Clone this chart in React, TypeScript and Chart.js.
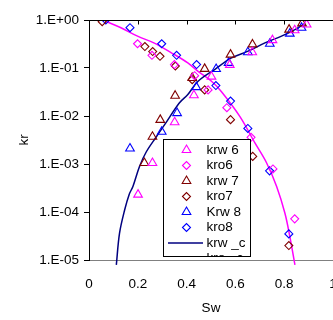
import React, { useEffect, useRef } from 'react';
import { Chart, registerables } from 'chart.js';

Chart.register(...registerables);

const FONT = "'Liberation Sans', Arial, Helvetica, sans-serif";
const FS = 13.5;

const MAGENTA = '#FF00FF';
const DARKRED = '#800000';
const BLUE = '#0000FF';
const NAVY = '#000080';

// x-axis tick labels and y-axis decade ticks
const xTickLabels = ['0', '0.2', '0.4', '0.6', '0.8', '1'];
const yTicks = [1, 0.1, 0.01, 0.001, 0.0001, 0.00001];
const yTickLabels = ['1.E+00', '1.E-01', '1.E-02', '1.E-03', '1.E-04', '1.E-05'];

// krw 6 (magenta triangles)
const krw6Sw = [0.201, 0.260, 0.351, 0.430, 0.502, 0.577, 0.669, 0.752, 0.843, 0.892];
const krw6Kr = [2.3e-4, 1.05e-3, 7.4e-3, 0.027, 0.066, 0.116, 0.213, 0.38, 0.61, 0.805];

// kro6 (magenta diamonds)
const kro6Sw = [0.199, 0.258, 0.350, 0.433, 0.488, 0.565, 0.664, 0.754, 0.843];
const kro6Kr = [0.32, 0.184, 0.118, 0.069, 0.035, 0.0149, 0.0036, 7.9e-4, 7.2e-5];

// krw 7 (dark red triangles)
const krw7Sw = [0.227, 0.260, 0.292, 0.353, 0.423, 0.474, 0.580, 0.670, 0.820, 0.873];
const krw7Kr = [1.05e-3, 3.7e-3, 8.3e-3, 0.0265, 0.062, 0.096, 0.19, 0.31, 0.63, 0.85];

// kro7 (dark red diamonds)
const kro7Sw = [0.054, 0.229, 0.261, 0.291, 0.354, 0.423, 0.474, 0.580, 0.671, 0.819];
const kro7Kr = [0.92, 0.28, 0.22, 0.175, 0.11, 0.057, 0.035, 0.0084, 0.00144, 2.0e-5];

// Krw 8 (blue triangles)
const krw8Sw = [0.168, 0.298, 0.361, 0.440, 0.521, 0.572, 0.651, 0.741, 0.823, 0.871];
const krw8Kr = [2.1e-3, 4.7e-3, 0.0115, 0.04, 0.095, 0.128, 0.213, 0.32, 0.52, 0.69];

// kro8 (blue diamonds)
const kro8Sw = [0.069, 0.168, 0.298, 0.359, 0.441, 0.520, 0.580, 0.651, 0.740, 0.819];
const kro8Kr = [1.0, 0.69, 0.32, 0.184, 0.118, 0.043, 0.0205, 0.0055, 7.2e-4, 3.5e-5];

// krw _c (navy curve)
const krwcSw = [0.112, 0.125, 0.146, 0.165, 0.180, 0.207, 0.235, 0.276, 0.310, 0.370, 0.405, 0.447, 0.515, 0.584, 0.652, 0.721, 0.789, 0.844, 0.885];
const krwcKr = [7.9e-6, 3.6e-5, 1.1e-4, 2.35e-4, 3.4e-4, 8.9e-4, 1.8e-3, 3.7e-3, 6.6e-3, 0.0187, 0.028, 0.053, 0.093, 0.162, 0.224, 0.334, 0.46, 0.63, 0.85];

// kro _c (magenta curve)
const krocSw = [0.069, 0.131, 0.199, 0.268, 0.336, 0.405, 0.447, 0.502, 0.543, 0.618, 0.680, 0.728, 0.769, 0.803, 0.823, 0.844];
const krocKr = [0.94, 0.69, 0.46, 0.33, 0.21, 0.128, 0.085, 0.053, 0.032, 0.0098, 2.75e-3, 1.05e-3, 3.4e-4, 9.4e-5, 3.1e-5, 7.9e-6];

const pts = (xs: number[], ys: number[]) => xs.map((x, i) => ({ x, y: ys[i] }));

function markerDs(label: string, xs: number[], ys: number[], color: string, style: string) {
  return {
    label,
    data: pts(xs, ys),
    showLine: false,
    pointStyle: style,
    pointRadius: style === 'triangle' ? 5 : 4,
    pointBorderColor: color,
    pointBackgroundColor: 'rgba(0,0,0,0)',
    pointBorderWidth: 1.1,
    borderColor: color,
    backgroundColor: 'rgba(0,0,0,0)',
  };
}

function lineDs(label: string, xs: number[], ys: number[], color: string) {
  return {
    label,
    data: pts(xs, ys),
    showLine: true,
    pointRadius: 0,
    borderColor: color,
    backgroundColor: color,
    borderWidth: 1.5,
    tension: 0.35,
    clip: { left: 0, top: 0, right: 0, bottom: 10 },
  };
}

function drawMarker(ctx: CanvasRenderingContext2D, style: string, x: number, y: number, r: number) {
  ctx.beginPath();
  if (style === 'triangle') {
    ctx.moveTo(x, y - r);
    ctx.lineTo(x + r * Math.cos(Math.PI / 6), y + r * 0.5);
    ctx.lineTo(x - r * Math.cos(Math.PI / 6), y + r * 0.5);
    ctx.closePath();
  } else {
    ctx.moveTo(x - r, y);
    ctx.lineTo(x, y - r);
    ctx.lineTo(x + r, y);
    ctx.lineTo(x, y + r);
    ctx.closePath();
  }
  ctx.stroke();
}

// stretch the plot to the right canvas edge (x = 1 sits on the cropped edge)
const stretchRight = {
  id: 'stretchRight',
  afterLayout(chart: any) {
    const a = chart.chartArea;
    const target = chart.width;
    a.right = target;
    a.width = a.right - a.left;
    const xs = chart.scales.x;
    xs.right = target;
    xs.width = target - xs.left;
    xs.configure();
  },
};

const frameAndLegend = {
  id: 'frameAndLegend',
  afterDatasetsDraw(chart: any) {
    const ctx: CanvasRenderingContext2D = chart.ctx;
    const area = chart.chartArea;
    const xs = chart.scales.x;
    ctx.save();
    ctx.strokeStyle = '#000';
    ctx.lineWidth = 1;
    const ty = Math.round(area.top) + 0.5;
    ctx.beginPath();
    ctx.moveTo(area.left, ty);
    ctx.lineTo(chart.width, ty);
    [0.2, 0.4, 0.6, 0.8, 1].forEach((v) => {
      const px = Math.round(xs.getPixelForValue(v)) + 0.5;
      ctx.moveTo(px, ty);
      ctx.lineTo(px, ty + 4);
    });
    ctx.stroke();

    // legend box
    const bx = 163.5, by = 139.5, bw = 87, bh = 117;
    ctx.fillStyle = '#fff';
    ctx.fillRect(bx, by, bw, bh);
    ctx.save();
    ctx.beginPath();
    ctx.rect(bx, by, bw, bh);
    ctx.clip();
    ctx.font = `${FS}px ${FONT}`;
    ctx.textBaseline = 'middle';
    ctx.textAlign = 'left';
    chart.data.datasets.forEach((ds: any, i: number) => {
      const cy = 150 + i * 15.5;
      if (ds.showLine) {
        ctx.strokeStyle = ds.borderColor;
        ctx.lineWidth = 1.5;
        ctx.beginPath();
        ctx.moveTo(168, cy);
        ctx.lineTo(203, cy);
        ctx.stroke();
      } else {
        ctx.strokeStyle = ds.pointBorderColor;
        ctx.lineWidth = 1.1;
        drawMarker(ctx, ds.pointStyle, 186.5, cy, ds.pointRadius);
      }
      ctx.fillStyle = '#000';
      ctx.fillText(ds.label, 206.5, cy);
    });
    ctx.restore();
    ctx.strokeStyle = '#000';
    ctx.lineWidth = 1;
    ctx.strokeRect(bx, by, bw, bh);
    ctx.restore();
  },
};

export default function App() {
  const ref = useRef<HTMLCanvasElement | null>(null);
  useEffect(() => {
    document.body.style.margin = '0';
    document.body.style.overflow = 'hidden';
    const canvas = ref.current;
    if (!canvas) return;
    const chart = new Chart(canvas, {
      type: 'scatter',
      data: {
        datasets: [
          markerDs('krw 6', krw6Sw, krw6Kr, MAGENTA, 'triangle'),
          markerDs('kro6', kro6Sw, kro6Kr, MAGENTA, 'rectRot'),
          markerDs('krw 7', krw7Sw, krw7Kr, DARKRED, 'triangle'),
          markerDs('kro7', kro7Sw, kro7Kr, DARKRED, 'rectRot'),
          markerDs('Krw 8', krw8Sw, krw8Kr, BLUE, 'triangle'),
          markerDs('kro8', kro8Sw, kro8Kr, BLUE, 'rectRot'),
          lineDs('krw _c', krwcSw, krwcKr, NAVY),
          lineDs('kro _c', krocSw, krocKr, MAGENTA),
        ] as any,
      },
      options: {
        responsive: false,
        animation: false,
        devicePixelRatio: 1,
        layout: { padding: { top: 20, right: 0, bottom: 0, left: 0 } },
        plugins: { legend: { display: false }, tooltip: { enabled: false } },
        scales: {
          x: {
            type: 'linear',
            min: 0,
            max: 1,
            afterFit: (axis: any) => {
              axis.height = 60;
              axis.paddingRight = 0;
              axis.paddingLeft = 0;
            },
            grid: { display: false, drawTicks: false },
            border: { display: true, color: '#808080', width: 1 },
            ticks: {
              stepSize: 0.2,
              padding: 16,
              color: '#000',
              font: { family: FONT, size: FS },
              maxRotation: 0,
              callback: (_v: any, i: number) => xTickLabels[i],
            },
            title: {
              display: true,
              text: 'Sw',
              color: '#000',
              font: { family: FONT, size: FS },
              padding: { top: 4, bottom: 4 },
            },
          },
          y: {
            type: 'logarithmic',
            min: 1e-5,
            max: 1,
            afterBuildTicks: (axis: any) => {
              axis.ticks = yTicks.map((v) => ({ value: v }));
            },
            afterFit: (axis: any) => {
              axis.width = 89;
            },
            grid: { display: true, drawOnChartArea: false, drawTicks: true, tickLength: 5, color: '#000' },
            border: { display: true, color: '#000', width: 1 },
            ticks: {
              padding: 5,
              color: '#000',
              font: { family: FONT, size: FS },
              callback: (v: any) => {
                const idx = yTicks.findIndex((t) => Math.abs(Math.log10(t) - Math.log10(v)) < 1e-6);
                return idx >= 0 ? yTickLabels[idx] : '';
              },
            },
            title: {
              display: true,
              text: 'kr',
              color: '#000',
              font: { family: FONT, size: FS },
              padding: { top: 16, bottom: 0 },
            },
          },
        },
      } as any,
      plugins: [stretchRight, frameAndLegend],
    });
    return () => chart.destroy();
  }, []);
  return (
    <canvas
      ref={ref}
      width={333}
      height={320}
      style={{ display: 'block', width: 333, height: 320, background: '#fff' }}
    />
  );
}
